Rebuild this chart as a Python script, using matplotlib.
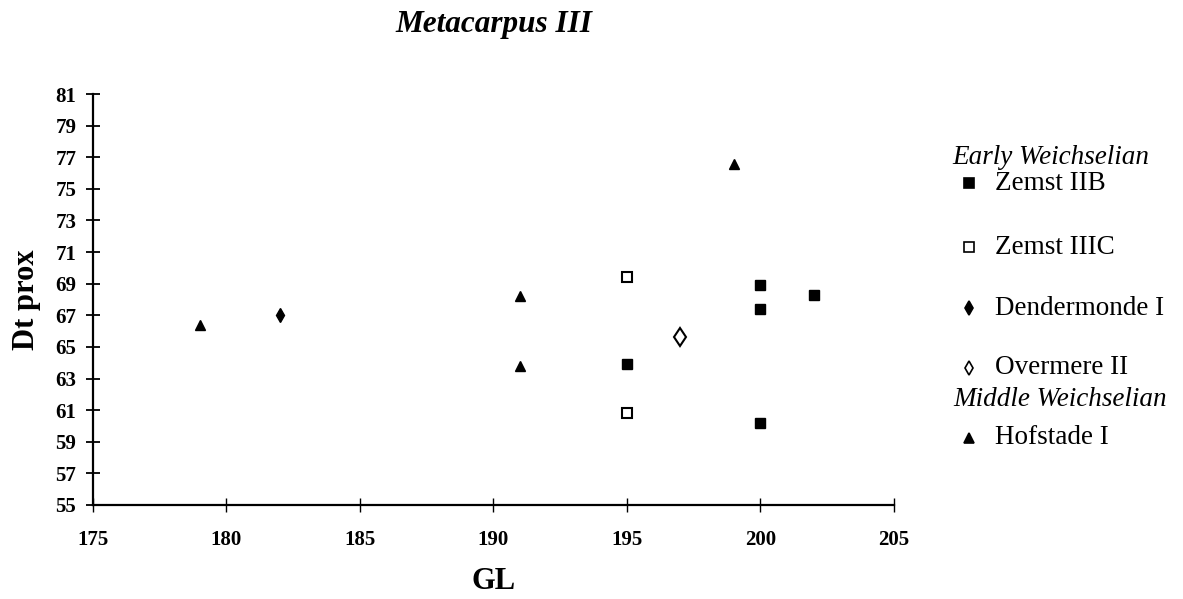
import matplotlib
matplotlib.use("Agg")
import matplotlib.pyplot as plt
from matplotlib.lines import Line2D

plt.rcParams['font.family'] = ['Liberation Serif', 'DejaVu Serif']

# data
zemst_iib_x = [195, 200, 200, 200, 202]
zemst_iib_y = [63.9, 68.9, 67.4, 60.2, 68.3]
zemst_iiic_x = [195, 195]
zemst_iiic_y = [69.4, 60.8]
dendermonde_x = [182]
dendermonde_y = [67.0]
overmere_x = [197]
overmere_y = [65.6]
hofstade_x = [179, 191, 191, 199]
hofstade_y = [66.4, 68.2, 63.8, 76.6]

x_ticks = [175, 180, 185, 190, 195, 200, 205]
y_ticks = list(range(55, 82, 2))

fig = plt.figure(figsize=(11.83, 5.99), dpi=100)
ax = fig.add_axes([0.0786, 0.157, 0.677, 0.686])

ax.plot(zemst_iib_x, zemst_iib_y, 's', color='black', markersize=7.5, linestyle='none')
ax.plot(zemst_iiic_x, zemst_iiic_y, 's', markerfacecolor='white', markeredgecolor='black',
        markeredgewidth=1.5, markersize=7.5, linestyle='none')
ax.plot(dendermonde_x, dendermonde_y, 'd', color='black', markersize=7, linestyle='none')
ax.plot(overmere_x, overmere_y, 'd', markerfacecolor='white', markeredgecolor='black',
        markeredgewidth=1.5, markersize=9.5, linestyle='none')
ax.plot(hofstade_x, hofstade_y, '^', color='black', markersize=7.5, linestyle='none')

ax.set_xlim(175, 205)
ax.set_ylim(55, 81)
ax.set_xticks(x_ticks)
ax.set_yticks(y_ticks)
for s in ['top', 'right']:
    ax.spines[s].set_visible(False)
for s in ['left', 'bottom']:
    ax.spines[s].set_linewidth(1.6)
ax.tick_params(axis='y', direction='inout', length=10, width=1.3, pad=7, labelsize=15)
ax.tick_params(axis='x', direction='inout', length=10, width=1.0, pad=13, labelsize=15)
for lab in ax.get_xticklabels() + ax.get_yticklabels():
    lab.set_fontweight('bold')

ax.set_xlabel('GL', fontsize=22, fontweight='bold', labelpad=12)
ax.set_ylabel('Dt prox', fontsize=22, fontweight='bold', labelpad=10)
ax.set_title('Metacarpus III', fontsize=22.5, fontweight='bold', style='italic', pad=45)

# legend drawn by hand, as in the reference
W, H = 1183, 599
def fx(px):
    return px / W
def fy(py):
    return 1 - py / H

fig.text(fx(952), fy(157), 'Early Weichselian', fontsize=19.5, style='italic', va='center')
fig.text(fx(953), fy(400), 'Middle Weichselian', fontsize=19.5, style='italic', va='center')

legend_names = ['Zemst IIB', 'Zemst IIIC', 'Dendermonde I', 'Overmere II', 'Hofstade I']
legend_markers = ['s', 's', 'd', 'd', '^']
legend_fill = ['black', 'white', 'black', 'white', 'black']
legend_rows = [183, 247, 308, 368, 438]
for name, mk, fc, row in zip(legend_names, legend_markers, legend_fill, legend_rows):
    fig.add_artist(Line2D([fx(969)], [fy(row)], marker=mk, markersize=7,
                          markerfacecolor=fc, markeredgecolor='black', markeredgewidth=1.2,
                          linestyle='none', transform=fig.transFigure))
    fig.text(fx(995), fy(row), name, fontsize=19.5, va='center')

fig.savefig('out.png', dpi=100)
